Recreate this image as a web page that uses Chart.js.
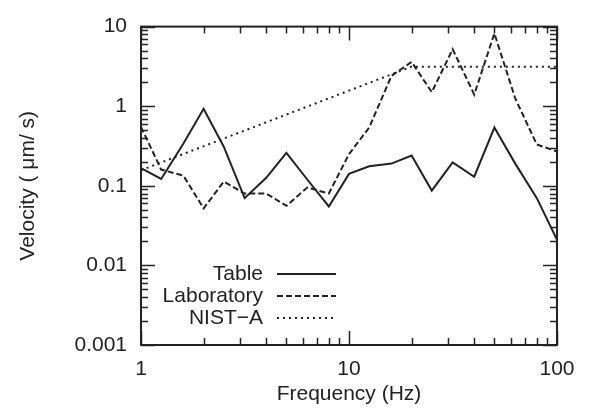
<!DOCTYPE html>
<html>
<head>
<meta charset="utf-8">
<script src="https://cdn.jsdelivr.net/npm/chart.js@4"></script>
<style>
  html, body { margin: 0; padding: 0; background: #fff; }
</style>
</head>
<body>
<canvas id="VelocityChart" width="590" height="414"></canvas>
<script>
// one-third octave band centres (Hz)
var freqs = [1, 1.25, 1.6, 2, 2.5, 3.15, 4, 5, 6.3, 8, 10, 12.5, 16, 20, 25, 31.5, 40, 50, 63, 80, 100];
var tableVel = [0.167, 0.122, 0.34, 0.93, 0.31, 0.07, 0.126, 0.26, 0.12, 0.055, 0.141, 0.176, 0.19, 0.24, 0.087, 0.197, 0.13, 0.54, 0.19, 0.07, 0.021];
var labVel = [0.55, 0.16, 0.134, 0.052, 0.113, 0.08, 0.08, 0.056, 0.095, 0.08, 0.25, 0.54, 2.4, 3.6, 1.5, 5.2, 1.4, 8.2, 1.25, 0.33, 0.27];
var nistFreqs = [1, 20, 100];
var nistVel = [0.157, 3.14, 3.14];
var xTicks = [1, 10, 100];
var yTicks = [0.001, 0.01, 0.1, 1, 10];

var ink = '#222';
var font = { family: '"Liberation Sans", Arial, sans-serif', size: 21 };

function pts(xs, ys) {
    return xs.map(function (v, i) { return { x: v, y: ys[i] }; });
}

// box around the plot with inward ticks on all four sides
var frameTicks = {
    id: 'frameTicks',
    afterDatasetsDraw: function (chart) {
        var ctx = chart.ctx, a = chart.chartArea;
        var xs = chart.scales.x, ys = chart.scales.y;
        ctx.save();
        ctx.strokeStyle = ink;
        ctx.lineWidth = 1.5;
        ctx.beginPath();
        for (var d = xs.min; d < xs.max; d *= 10) {
            for (var m = 1; m <= 10; m++) {
                var px = Math.round(xs.getPixelForValue(d * m)) + 0.5;
                var len = (m === 1 || m === 10) ? 14 : 7;
                ctx.moveTo(px, a.bottom); ctx.lineTo(px, a.bottom - len);
                ctx.moveTo(px, a.top); ctx.lineTo(px, a.top + len);
            }
        }
        for (var e = ys.min; e < ys.max * 0.999; e *= 10) {
            for (var k = 1; k <= 10; k++) {
                var py = Math.round(ys.getPixelForValue(e * k)) + 0.5;
                var l2 = (k === 1 || k === 10) ? 14 : 7;
                ctx.moveTo(a.left, py); ctx.lineTo(a.left + l2, py);
                ctx.moveTo(a.right, py); ctx.lineTo(a.right - l2, py);
            }
        }
        ctx.stroke();
        ctx.lineWidth = 2;
        ctx.strokeRect(a.left, a.top, a.right - a.left, a.bottom - a.top);
        ctx.restore();
    }
};

// gnuplot style key: right aligned text, line sample to its right
var keyPlugin = {
    id: 'keyPlugin',
    afterDraw: function (chart) {
        var ctx = chart.ctx;
        var textRight = 263, lineL = 277, lineR = 336, y0 = 274, step = 22;
        ctx.save();
        ctx.font = font.size + 'px ' + font.family;
        ctx.textAlign = 'right';
        ctx.textBaseline = 'middle';
        chart.data.datasets.forEach(function (ds, i) {
            var y = y0 + i * step;
            ctx.fillStyle = ink;
            ctx.fillText(ds.label, textRight, y);
            ctx.strokeStyle = ds.borderColor;
            ctx.lineWidth = ds.borderWidth;
            ctx.setLineDash(ds.borderDash || []);
            ctx.beginPath();
            ctx.moveTo(lineL, y);
            ctx.lineTo(lineR, y);
            ctx.stroke();
        });
        ctx.restore();
    }
};

var ctx = document.getElementById('VelocityChart');

var VelocityChart = new Chart(ctx, {
    type: 'line',
    data: {
        datasets: [{
            label: 'Table',
            data: pts(freqs, tableVel),
            borderColor: ink,
            borderWidth: 2,
            pointRadius: 0
        },
        {
            label: 'Laboratory',
            data: pts(freqs, labVel),
            borderColor: ink,
            borderWidth: 2,
            borderDash: [6, 3],
            pointRadius: 0
        },
        {
            label: 'NIST\u2212A',
            data: pts(nistFreqs, nistVel),
            borderColor: ink,
            borderWidth: 2,
            borderDash: [2, 4],
            pointRadius: 0
        }]
    },
    options: {
        responsive: false,
        animation: false,
        events: [],
        layout: { padding: { left: 0, right: 33, top: 16, bottom: 0 } },
        plugins: { legend: { display: false }, tooltip: { enabled: false } },
        scales: {
            x: {
                type: 'logarithmic',
                min: 1,
                max: 100,
                afterBuildTicks: function (s) { s.ticks = xTicks.map(function (v) { return { value: v }; }); },
                afterFit: function (s) { s.height = 69; },
                grid: { display: false, drawTicks: false },
                border: { display: false },
                ticks: {
                    color: ink, font: font, padding: 12, maxRotation: 0,
                    callback: function (v) { return String(v); }
                },
                title: {
                    display: true, text: 'Frequency (Hz)', color: ink, font: font,
                    padding: { top: 0, bottom: 7 }
                }
            },
            y: {
                type: 'logarithmic',
                min: 0.001,
                max: 10,
                afterBuildTicks: function (s) { s.ticks = yTicks.map(function (v) { return { value: v }; }); },
                afterFit: function (s) { s.width = 141; },
                grid: { display: false, drawTicks: false },
                border: { display: false },
                ticks: {
                    color: ink, font: font, padding: 14,
                    callback: function (v) { return String(v); }
                },
                title: {
                    display: true, text: 'Velocity ( \u03bcm/ s)', color: ink, font: font,
                    padding: { top: 16, bottom: 0 }
                }
            }
        }
    },
    plugins: [frameTicks, keyPlugin]
});
</script>
</body>
</html>
